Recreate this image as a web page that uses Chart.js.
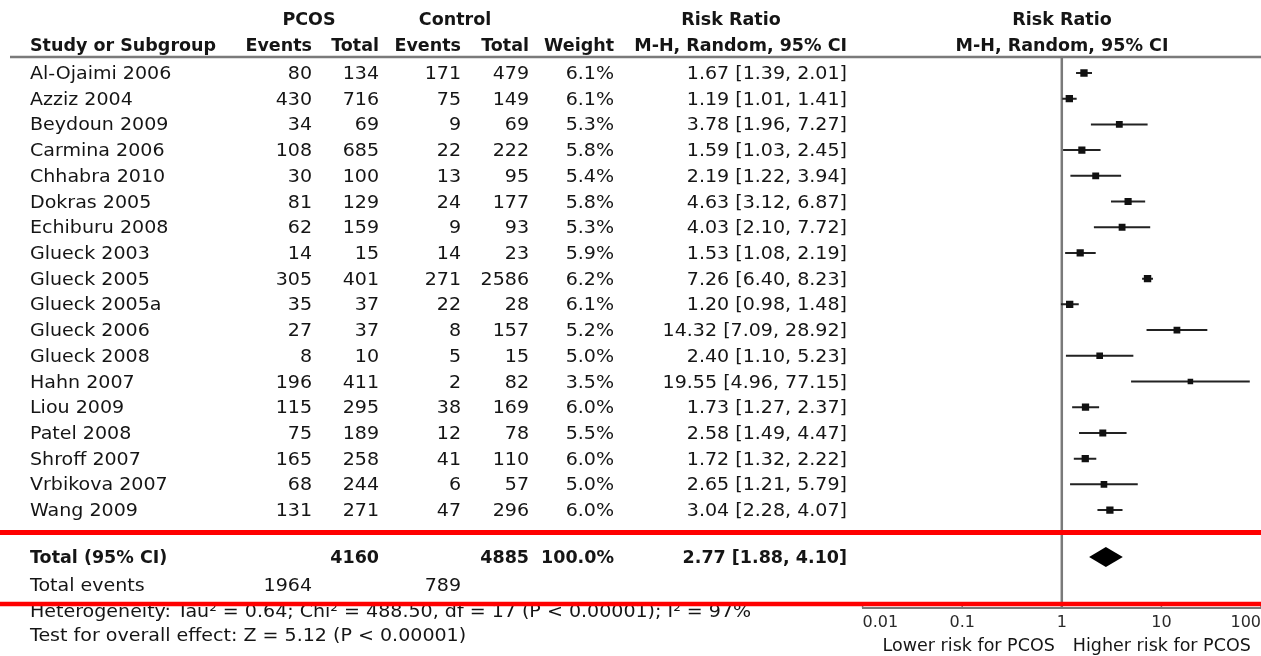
<!DOCTYPE html>
<html>
<head>
<meta charset="utf-8">
<title>Risk Ratio forest plot – PCOS vs control</title>
<script src="https://cdn.jsdelivr.net/npm/chart.js@4/dist/chart.umd.min.js"></script>
<style>
  html, body { margin: 0; padding: 0; background: #fff; overflow: hidden; }
  canvas { display: block; }
</style>
</head>
<body>
<canvas id="forest" width="1261" height="656"></canvas>
<script>
// ---- study data ----
const studies = [
  'Al-Ojaimi 2006', 'Azziz 2004', 'Beydoun 2009', 'Carmina 2006', 'Chhabra 2010',
  'Dokras 2005', 'Echiburu 2008', 'Glueck 2003', 'Glueck 2005', 'Glueck 2005a',
  'Glueck 2006', 'Glueck 2008', 'Hahn 2007', 'Liou 2009', 'Patel 2008',
  'Shroff 2007', 'Vrbikova 2007', 'Wang 2009'
];
const pcosEvents = [80, 430, 34, 108, 30, 81, 62, 14, 305, 35, 27, 8, 196, 115, 75, 165, 68, 131];
const pcosTotal  = [134, 716, 69, 685, 100, 129, 159, 15, 401, 37, 37, 10, 411, 295, 189, 258, 244, 271];
const ctrlEvents = [171, 75, 9, 22, 13, 24, 9, 14, 271, 22, 8, 5, 2, 38, 12, 41, 6, 47];
const ctrlTotal  = [479, 149, 69, 222, 95, 177, 93, 23, 2586, 28, 157, 15, 82, 169, 78, 110, 57, 296];
const weights    = [6.1, 6.1, 5.3, 5.8, 5.4, 5.8, 5.3, 5.9, 6.2, 6.1, 5.2, 5.0, 3.5, 6.0, 5.5, 6.0, 5.0, 6.0];
const riskRatio  = [1.67, 1.19, 3.78, 1.59, 2.19, 4.63, 4.03, 1.53, 7.26, 1.20, 14.32, 2.40, 19.55, 1.73, 2.58, 1.72, 2.65, 3.04];
const ciLow      = [1.39, 1.01, 1.96, 1.03, 1.22, 3.12, 2.10, 1.08, 6.40, 0.98, 7.09, 1.10, 4.96, 1.27, 1.49, 1.32, 1.21, 2.28];
const ciHigh     = [2.01, 1.41, 7.27, 2.45, 3.94, 6.87, 7.72, 2.19, 8.23, 1.48, 28.92, 5.23, 77.15, 2.37, 4.47, 2.22, 5.79, 4.07];

// ---- pooled result ----
const pooledRR = [2.77, 1.88, 4.10];          // estimate, lower, upper
const totalSubjects = [4160, 4885];           // PCOS, control
const totalEvents = [1964, 789];              // PCOS, control
const totalWeight = 100.0;

// ---- axis ----
const xTicks = [0.01, 0.1, 1, 10, 100];
const xTickLabels = ['0.01', '0.1', '1', '10', '100'];

// ---- footnotes ----
const heterogeneityText = 'Heterogeneity: Tau\u00B2 = 0.64; Chi\u00B2 = 488.50, df = 17 (P < 0.00001); I\u00B2 = 97%';
const overallEffectText = 'Test for overall effect: Z = 5.12 (P < 0.00001)';

// ---- layout (row positions on the y scale, column anchors in px) ----
const ROW_TOTAL = 18.83, ROW_EVENTS = 19.92, ROW_HET = 20.93, ROW_TEST = 21.86;
const COL = { name: 30, ev1: 312, tot1: 379, ev2: 461, tot2: 529, wt: 614, rr: 847 };
const FONT = '"DejaVu Sans", Verdana, sans-serif';
const FONT_SIZE = 17;
const TEXT_SX = 1.12;        // horizontal stretch of regular table text
const BOLD_SX = 1.03;        // horizontal stretch of bold table text
const CAPTION_SX = 1.03;     // horizontal stretch of the axis captions
const INK = '#151515';
const RULE = '#7a7a7a';

const fmt2 = v => v.toFixed(2);
const ciText = (e, l, h) => `${fmt2(e)} [${fmt2(l)}, ${fmt2(h)}]`;

function drawText(ctx, str, x, y, align, bold, sx) {
  ctx.save();
  ctx.font = `${bold ? 'bold ' : ''}${FONT_SIZE}px ${FONT}`;
  ctx.fillStyle = INK;
  ctx.textBaseline = 'alphabetic';
  ctx.translate(x, y);
  ctx.scale(sx || (bold ? BOLD_SX : TEXT_SX), 1);
  ctx.textAlign = align;
  ctx.fillText(str, 0, 0);
  ctx.restore();
}

// line segments for confidence intervals (gaps between studies)
const ciSegments = [];
studies.forEach((_, i) => {
  ciSegments.push({ x: ciLow[i], y: i }, { x: ciHigh[i], y: i }, { x: null, y: null });
});

const forestPlugin = {
  id: 'forestTable',
  beforeDatasetsDraw(chart) {
    const { ctx, chartArea, scales: { x } } = chart;
    ctx.save();
    ctx.strokeStyle = RULE;
    ctx.lineWidth = 2.5;
    // header rule
    ctx.beginPath();
    ctx.moveTo(10, chartArea.top);
    ctx.lineTo(chart.width, chartArea.top);
    ctx.stroke();
    // line of no effect
    const x1 = x.getPixelForValue(1);
    ctx.beginPath();
    ctx.moveTo(x1, chartArea.top);
    ctx.lineTo(x1, chartArea.bottom);
    ctx.stroke();
    ctx.restore();
  },
  afterDatasetsDraw(chart) {
    const { ctx, chartArea, scales: { x, y } } = chart;
    const base = 6; // baseline offset from row centre

    // column headers
    drawText(ctx, 'PCOS', 309, 25, 'center', true);
    drawText(ctx, 'Control', 455, 25, 'center', true);
    drawText(ctx, 'Risk Ratio', 731, 25, 'center', true);
    drawText(ctx, 'Risk Ratio', 1062, 25, 'center', true);
    drawText(ctx, 'Study or Subgroup', COL.name, 51, 'left', true);
    drawText(ctx, 'Events', COL.ev1, 51, 'right', true);
    drawText(ctx, 'Total', COL.tot1, 51, 'right', true);
    drawText(ctx, 'Events', COL.ev2, 51, 'right', true);
    drawText(ctx, 'Total', COL.tot2, 51, 'right', true);
    drawText(ctx, 'Weight', COL.wt, 51, 'right', true);
    drawText(ctx, 'M-H, Random, 95% CI', COL.rr, 51, 'right', true);
    drawText(ctx, 'M-H, Random, 95% CI', 1062, 51, 'center', true);

    // study rows
    studies.forEach((name, i) => {
      const py = y.getPixelForValue(i) + base;
      drawText(ctx, name, COL.name, py, 'left');
      drawText(ctx, String(pcosEvents[i]), COL.ev1, py, 'right');
      drawText(ctx, String(pcosTotal[i]), COL.tot1, py, 'right');
      drawText(ctx, String(ctrlEvents[i]), COL.ev2, py, 'right');
      drawText(ctx, String(ctrlTotal[i]), COL.tot2, py, 'right');
      drawText(ctx, weights[i].toFixed(1) + '%', COL.wt, py, 'right');
      drawText(ctx, ciText(riskRatio[i], ciLow[i], ciHigh[i]), COL.rr, py, 'right');
    });

    // pooled row
    const ty = y.getPixelForValue(ROW_TOTAL) + base;
    drawText(ctx, 'Total (95% CI)', COL.name, ty, 'left', true);
    drawText(ctx, String(totalSubjects[0]), COL.tot1, ty, 'right', true);
    drawText(ctx, String(totalSubjects[1]), COL.tot2, ty, 'right', true);
    drawText(ctx, totalWeight.toFixed(1) + '%', COL.wt, ty, 'right', true);
    drawText(ctx, ciText(pooledRR[0], pooledRR[1], pooledRR[2]), COL.rr, ty, 'right', true);

    const ey = y.getPixelForValue(ROW_EVENTS) + base;
    drawText(ctx, 'Total events', COL.name, ey, 'left');
    drawText(ctx, String(totalEvents[0]), COL.ev1, ey, 'right');
    drawText(ctx, String(totalEvents[1]), COL.ev2, ey, 'right');

    drawText(ctx, heterogeneityText, COL.name, y.getPixelForValue(ROW_HET) + base, 'left');
    drawText(ctx, overallEffectText, COL.name, y.getPixelForValue(ROW_TEST) + base, 'left');

    // pooled diamond
    const dyc = y.getPixelForValue(ROW_TOTAL);
    const dl = x.getPixelForValue(pooledRR[1]);
    const dc = x.getPixelForValue(pooledRR[0]);
    const dr = x.getPixelForValue(pooledRR[2]);
    ctx.save();
    ctx.fillStyle = '#000';
    ctx.beginPath();
    ctx.moveTo(dl, dyc);
    ctx.lineTo(dc, dyc - 10);
    ctx.lineTo(dr, dyc);
    ctx.lineTo(dc, dyc + 10);
    ctx.closePath();
    ctx.fill();
    ctx.restore();

    // inward tick marks on the x axis
    ctx.save();
    ctx.strokeStyle = RULE;
    ctx.lineWidth = 1.5;
    xTicks.forEach(v => {
      const px = x.getPixelForValue(v);
      ctx.beginPath();
      ctx.moveTo(px, chartArea.bottom);
      ctx.lineTo(px, chartArea.bottom - 6);
      ctx.stroke();
    });
    ctx.restore();

    // direction captions
    const x1 = x.getPixelForValue(1);
    drawText(ctx, 'Lower risk for PCOS', x1 - 7, 651, 'right', false, CAPTION_SX);
    drawText(ctx, 'Higher risk for PCOS', x1 + 11, 651, 'left', false, CAPTION_SX);
  },
  afterDraw(chart) {
    // red emphasis rules around the pooled summary
    const { ctx } = chart;
    ctx.save();
    ctx.strokeStyle = '#ff0000';
    ctx.lineWidth = 5;
    ctx.beginPath();
    ctx.moveTo(0, 532.5);
    ctx.lineTo(chart.width, 532.5);
    ctx.stroke();
    ctx.lineWidth = 4.5;
    ctx.beginPath();
    ctx.moveTo(0, 604);
    ctx.lineTo(chart.width, 604);
    ctx.stroke();
    ctx.restore();
  }
};

new Chart(document.getElementById('forest'), {
  type: 'scatter',
  data: {
    datasets: [
      {
        label: 'Risk ratio',
        data: studies.map((_, i) => ({ x: riskRatio[i], y: i })),
        pointStyle: 'rect',
        pointRadius: weights.map(w => Math.sqrt(w) * 2.1),
        backgroundColor: '#111',
        borderWidth: 0,
        order: 0
      },
      {
        label: '95% CI',
        data: ciSegments,
        showLine: true,
        spanGaps: false,
        borderColor: '#222',
        borderWidth: 2,
        pointRadius: 0,
        fill: false,
        order: 1
      }
    ]
  },
  options: {
    responsive: false,
    animation: false,
    events: [],
    layout: { autoPadding: false, padding: { left: 862.6, right: 0, top: 57, bottom: 0 } },
    plugins: { legend: { display: false }, tooltip: { enabled: false } },
    scales: {
      x: {
        type: 'logarithmic',
        position: 'bottom',
        min: 0.01,
        max: 100,
        afterBuildTicks: s => { s.ticks = xTicks.map(v => ({ value: v })); },
        afterFit: s => { s.height = 48; s.paddingLeft = 0; s.paddingRight = 0; },
        grid: { display: true, drawOnChartArea: false, drawTicks: true, tickLength: 5, color: 'rgba(0,0,0,0)' },
        border: { display: true, color: RULE, width: 2 },
        ticks: {
          align: 'inner',
          padding: 0,
          autoSkip: false,
          maxRotation: 0,
          color: '#2a2a2a',
          font: { family: FONT, size: 16 },
          callback: (v, i) => xTickLabels[i]
        }
      },
      y: { type: 'linear', display: false, reverse: true, min: -0.622, max: 20.81 }
    }
  },
  plugins: [forestPlugin]
});
</script>
</body>
</html>
